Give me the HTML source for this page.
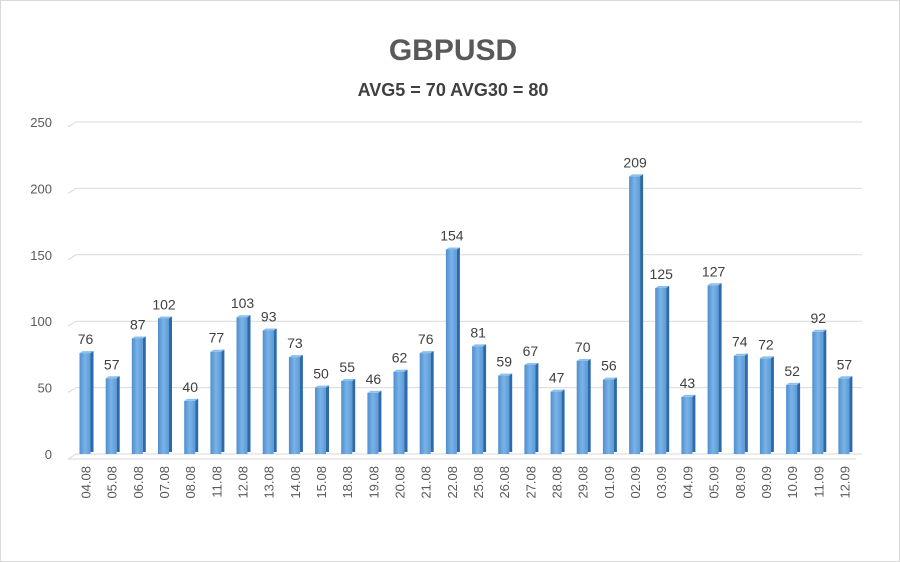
<!DOCTYPE html><html><head><style>body{margin:0;background:#fff}svg{display:block}</style></head><body>
<svg width="900" height="562" xmlns="http://www.w3.org/2000/svg" font-family="Liberation Sans, sans-serif">
<defs><linearGradient id="g" x1="0" x2="1"><stop offset="0" stop-color="#4f8fd0"/><stop offset="0.5" stop-color="#7ab3e6"/><stop offset="1" stop-color="#5a9ad8"/></linearGradient></defs>
<rect x="0.5" y="0.5" width="899" height="561" fill="#fff" stroke="#d9d9d9"/>
<text x="453" y="60" text-anchor="middle" font-size="30" font-weight="bold" fill="#595959">GBPUSD</text>
<text x="453" y="96" text-anchor="middle" font-size="18" font-weight="bold" fill="#404040">AVG5 = 70 AVG30 = 80</text>
<g stroke="#d9d9d9" fill="none">
<polyline points="68,127 76,122 862,122"/><polyline points="68,193.4 76,188.4 862,188.4"/><polyline points="68,259.8 76,254.8 862,254.8"/><polyline points="68,326.2 76,321.2 862,321.2"/><polyline points="68,392.6 76,387.6 862,387.6"/><polyline points="68,459 76,454 862,454"/><line x1="68" y1="459" x2="856" y2="459"/>
</g>
<g font-size="13" fill="#595959" text-anchor="end">
<text x="52" y="127">250</text><text x="52" y="193.4">200</text><text x="52" y="259.8">150</text><text x="52" y="326.2">100</text><text x="52" y="392.6">50</text><text x="52" y="459">0</text>
</g>
<g font-size="14" fill="#404040" text-anchor="middle">
<g transform="translate(85.5,353.1)"><rect x="-6" y="0" width="11" height="100.9" fill="url(#g)"/><rect x="5" y="-2" width="3" height="100.9" fill="#2f6aa8"/><polygon points="-6,0 -3,-2 8,-2 5,0" fill="#8cc0ee"/><text y="-9">76</text></g>
<g transform="translate(111.7,378.3)"><rect x="-6" y="0" width="11" height="75.7" fill="url(#g)"/><rect x="5" y="-2" width="3" height="75.7" fill="#2f6aa8"/><polygon points="-6,0 -3,-2 8,-2 5,0" fill="#8cc0ee"/><text y="-9">57</text></g>
<g transform="translate(137.8,338.5)"><rect x="-6" y="0" width="11" height="115.5" fill="url(#g)"/><rect x="5" y="-2" width="3" height="115.5" fill="#2f6aa8"/><polygon points="-6,0 -3,-2 8,-2 5,0" fill="#8cc0ee"/><text y="-9">87</text></g>
<g transform="translate(164,318.5)"><rect x="-6" y="0" width="11" height="135.5" fill="url(#g)"/><rect x="5" y="-2" width="3" height="135.5" fill="#2f6aa8"/><polygon points="-6,0 -3,-2 8,-2 5,0" fill="#8cc0ee"/><text y="-9">102</text></g>
<g transform="translate(190.2,400.9)"><rect x="-6" y="0" width="11" height="53.1" fill="url(#g)"/><rect x="5" y="-2" width="3" height="53.1" fill="#2f6aa8"/><polygon points="-6,0 -3,-2 8,-2 5,0" fill="#8cc0ee"/><text y="-9">40</text></g>
<g transform="translate(216.4,351.7)"><rect x="-6" y="0" width="11" height="102.3" fill="url(#g)"/><rect x="5" y="-2" width="3" height="102.3" fill="#2f6aa8"/><polygon points="-6,0 -3,-2 8,-2 5,0" fill="#8cc0ee"/><text y="-9">77</text></g>
<g transform="translate(242.5,317.2)"><rect x="-6" y="0" width="11" height="136.8" fill="url(#g)"/><rect x="5" y="-2" width="3" height="136.8" fill="#2f6aa8"/><polygon points="-6,0 -3,-2 8,-2 5,0" fill="#8cc0ee"/><text y="-9">103</text></g>
<g transform="translate(268.7,330.5)"><rect x="-6" y="0" width="11" height="123.5" fill="url(#g)"/><rect x="5" y="-2" width="3" height="123.5" fill="#2f6aa8"/><polygon points="-6,0 -3,-2 8,-2 5,0" fill="#8cc0ee"/><text y="-9">93</text></g>
<g transform="translate(294.9,357.1)"><rect x="-6" y="0" width="11" height="96.9" fill="url(#g)"/><rect x="5" y="-2" width="3" height="96.9" fill="#2f6aa8"/><polygon points="-6,0 -3,-2 8,-2 5,0" fill="#8cc0ee"/><text y="-9">73</text></g>
<g transform="translate(321,387.6)"><rect x="-6" y="0" width="11" height="66.4" fill="url(#g)"/><rect x="5" y="-2" width="3" height="66.4" fill="#2f6aa8"/><polygon points="-6,0 -3,-2 8,-2 5,0" fill="#8cc0ee"/><text y="-9">50</text></g>
<g transform="translate(347.2,381)"><rect x="-6" y="0" width="11" height="73" fill="url(#g)"/><rect x="5" y="-2" width="3" height="73" fill="#2f6aa8"/><polygon points="-6,0 -3,-2 8,-2 5,0" fill="#8cc0ee"/><text y="-9">55</text></g>
<g transform="translate(373.4,392.9)"><rect x="-6" y="0" width="11" height="61.1" fill="url(#g)"/><rect x="5" y="-2" width="3" height="61.1" fill="#2f6aa8"/><polygon points="-6,0 -3,-2 8,-2 5,0" fill="#8cc0ee"/><text y="-9">46</text></g>
<g transform="translate(399.5,371.7)"><rect x="-6" y="0" width="11" height="82.3" fill="url(#g)"/><rect x="5" y="-2" width="3" height="82.3" fill="#2f6aa8"/><polygon points="-6,0 -3,-2 8,-2 5,0" fill="#8cc0ee"/><text y="-9">62</text></g>
<g transform="translate(425.7,353.1)"><rect x="-6" y="0" width="11" height="100.9" fill="url(#g)"/><rect x="5" y="-2" width="3" height="100.9" fill="#2f6aa8"/><polygon points="-6,0 -3,-2 8,-2 5,0" fill="#8cc0ee"/><text y="-9">76</text></g>
<g transform="translate(451.9,249.5)"><rect x="-6" y="0" width="11" height="204.5" fill="url(#g)"/><rect x="5" y="-2" width="3" height="204.5" fill="#2f6aa8"/><polygon points="-6,0 -3,-2 8,-2 5,0" fill="#8cc0ee"/><text y="-9">154</text></g>
<g transform="translate(478.1,346.4)"><rect x="-6" y="0" width="11" height="107.6" fill="url(#g)"/><rect x="5" y="-2" width="3" height="107.6" fill="#2f6aa8"/><polygon points="-6,0 -3,-2 8,-2 5,0" fill="#8cc0ee"/><text y="-9">81</text></g>
<g transform="translate(504.2,375.6)"><rect x="-6" y="0" width="11" height="78.4" fill="url(#g)"/><rect x="5" y="-2" width="3" height="78.4" fill="#2f6aa8"/><polygon points="-6,0 -3,-2 8,-2 5,0" fill="#8cc0ee"/><text y="-9">59</text></g>
<g transform="translate(530.4,365)"><rect x="-6" y="0" width="11" height="89" fill="url(#g)"/><rect x="5" y="-2" width="3" height="89" fill="#2f6aa8"/><polygon points="-6,0 -3,-2 8,-2 5,0" fill="#8cc0ee"/><text y="-9">67</text></g>
<g transform="translate(556.6,391.6)"><rect x="-6" y="0" width="11" height="62.4" fill="url(#g)"/><rect x="5" y="-2" width="3" height="62.4" fill="#2f6aa8"/><polygon points="-6,0 -3,-2 8,-2 5,0" fill="#8cc0ee"/><text y="-9">47</text></g>
<g transform="translate(582.7,361)"><rect x="-6" y="0" width="11" height="93" fill="url(#g)"/><rect x="5" y="-2" width="3" height="93" fill="#2f6aa8"/><polygon points="-6,0 -3,-2 8,-2 5,0" fill="#8cc0ee"/><text y="-9">70</text></g>
<g transform="translate(608.9,379.6)"><rect x="-6" y="0" width="11" height="74.4" fill="url(#g)"/><rect x="5" y="-2" width="3" height="74.4" fill="#2f6aa8"/><polygon points="-6,0 -3,-2 8,-2 5,0" fill="#8cc0ee"/><text y="-9">56</text></g>
<g transform="translate(635.1,176.4)"><rect x="-6" y="0" width="11" height="277.6" fill="url(#g)"/><rect x="5" y="-2" width="3" height="277.6" fill="#2f6aa8"/><polygon points="-6,0 -3,-2 8,-2 5,0" fill="#8cc0ee"/><text y="-9">209</text></g>
<g transform="translate(661.2,288)"><rect x="-6" y="0" width="11" height="166" fill="url(#g)"/><rect x="5" y="-2" width="3" height="166" fill="#2f6aa8"/><polygon points="-6,0 -3,-2 8,-2 5,0" fill="#8cc0ee"/><text y="-9">125</text></g>
<g transform="translate(687.4,396.9)"><rect x="-6" y="0" width="11" height="57.1" fill="url(#g)"/><rect x="5" y="-2" width="3" height="57.1" fill="#2f6aa8"/><polygon points="-6,0 -3,-2 8,-2 5,0" fill="#8cc0ee"/><text y="-9">43</text></g>
<g transform="translate(713.6,285.3)"><rect x="-6" y="0" width="11" height="168.7" fill="url(#g)"/><rect x="5" y="-2" width="3" height="168.7" fill="#2f6aa8"/><polygon points="-6,0 -3,-2 8,-2 5,0" fill="#8cc0ee"/><text y="-9">127</text></g>
<g transform="translate(739.8,355.7)"><rect x="-6" y="0" width="11" height="98.3" fill="url(#g)"/><rect x="5" y="-2" width="3" height="98.3" fill="#2f6aa8"/><polygon points="-6,0 -3,-2 8,-2 5,0" fill="#8cc0ee"/><text y="-9">74</text></g>
<g transform="translate(765.9,358.4)"><rect x="-6" y="0" width="11" height="95.6" fill="url(#g)"/><rect x="5" y="-2" width="3" height="95.6" fill="#2f6aa8"/><polygon points="-6,0 -3,-2 8,-2 5,0" fill="#8cc0ee"/><text y="-9">72</text></g>
<g transform="translate(792.1,384.9)"><rect x="-6" y="0" width="11" height="69.1" fill="url(#g)"/><rect x="5" y="-2" width="3" height="69.1" fill="#2f6aa8"/><polygon points="-6,0 -3,-2 8,-2 5,0" fill="#8cc0ee"/><text y="-9">52</text></g>
<g transform="translate(818.3,331.8)"><rect x="-6" y="0" width="11" height="122.2" fill="url(#g)"/><rect x="5" y="-2" width="3" height="122.2" fill="#2f6aa8"/><polygon points="-6,0 -3,-2 8,-2 5,0" fill="#8cc0ee"/><text y="-9">92</text></g>
<g transform="translate(844.4,378.3)"><rect x="-6" y="0" width="11" height="75.7" fill="url(#g)"/><rect x="5" y="-2" width="3" height="75.7" fill="#2f6aa8"/><polygon points="-6,0 -3,-2 8,-2 5,0" fill="#8cc0ee"/><text y="-9">57</text></g>
</g>
<g font-size="13" fill="#595959" text-anchor="end">
<text transform="translate(90.5,466) rotate(-90)">04.08</text>
<text transform="translate(116.7,466) rotate(-90)">05.08</text>
<text transform="translate(142.8,466) rotate(-90)">06.08</text>
<text transform="translate(169,466) rotate(-90)">07.08</text>
<text transform="translate(195.2,466) rotate(-90)">08.08</text>
<text transform="translate(221.4,466) rotate(-90)">11.08</text>
<text transform="translate(247.5,466) rotate(-90)">12.08</text>
<text transform="translate(273.7,466) rotate(-90)">13.08</text>
<text transform="translate(299.9,466) rotate(-90)">14.08</text>
<text transform="translate(326,466) rotate(-90)">15.08</text>
<text transform="translate(352.2,466) rotate(-90)">18.08</text>
<text transform="translate(378.4,466) rotate(-90)">19.08</text>
<text transform="translate(404.5,466) rotate(-90)">20.08</text>
<text transform="translate(430.7,466) rotate(-90)">21.08</text>
<text transform="translate(456.9,466) rotate(-90)">22.08</text>
<text transform="translate(483.1,466) rotate(-90)">25.08</text>
<text transform="translate(509.2,466) rotate(-90)">26.08</text>
<text transform="translate(535.4,466) rotate(-90)">27.08</text>
<text transform="translate(561.6,466) rotate(-90)">28.08</text>
<text transform="translate(587.7,466) rotate(-90)">29.08</text>
<text transform="translate(613.9,466) rotate(-90)">01.09</text>
<text transform="translate(640.1,466) rotate(-90)">02.09</text>
<text transform="translate(666.2,466) rotate(-90)">03.09</text>
<text transform="translate(692.4,466) rotate(-90)">04.09</text>
<text transform="translate(718.6,466) rotate(-90)">05.09</text>
<text transform="translate(744.8,466) rotate(-90)">08.09</text>
<text transform="translate(770.9,466) rotate(-90)">09.09</text>
<text transform="translate(797.1,466) rotate(-90)">10.09</text>
<text transform="translate(823.3,466) rotate(-90)">11.09</text>
<text transform="translate(849.4,466) rotate(-90)">12.09</text>
</g>
</svg></body></html>
